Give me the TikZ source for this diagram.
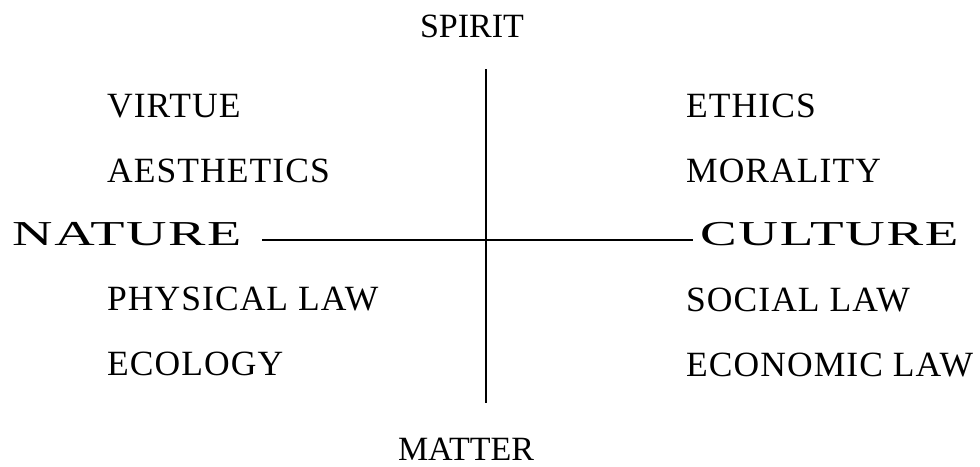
\documentclass[tikz,border=0pt]{standalone}
\usepackage{fontspec}
\setmainfont{Liberation Serif}
\newfontfamily\spaced[LetterSpace=3]{Liberation Serif}
\begin{document}
\begin{tikzpicture}[x=1pt,y=-1pt,
  item/.style={anchor=base west,inner sep=0pt,font=\spaced\fontsize{35.5}{40}\selectfont},
  pole/.style={anchor=base,inner sep=0pt,font=\fontsize{34}{40}\selectfont},
  big/.style={anchor=base west,inner sep=0pt,font=\spaced\fontsize{35}{40}\selectfont},
  axis/.style={line width=1.6pt}]
\useasboundingbox[fill=white] (0,0) rectangle (980,466);
\node[pole] (spirit) at (472,37) {SPIRIT};
\node[pole] (matter) at (466,460) {MATTER};
\node[big] (nature) at (12,245) {\scalebox{1.6}[1]{NATURE}};
\node[big] (culture) at (700,245) {\scalebox{1.57}[1]{CULTURE}};
\node[item] (virtue) at (107,117) {VIRTUE};
\node[item] (aesth) at (107,182) {AESTHETICS};
\node[item] (phys) at (107,310) {PHYSICAL LAW};
\node[item] (ecol) at (107,375) {ECOLOGY};
\node[item] (ethics) at (686,117) {ETHICS};
\node[item] (moral) at (686,182) {MORALITY};
\node[item] (social) at (686,311) {SOCIAL LAW};
\node[item] (econ) at (686,376) {ECONOMIC LAW};
\coordinate (vtop) at (486,69);
\coordinate (vbot) at (486,403);
\coordinate (hleft) at (262,240);
\coordinate (hright) at (693,240);
\draw[axis] (vtop) -- (vbot);
\draw[axis] (hleft) -- (hright);
\end{tikzpicture}
\end{document}
